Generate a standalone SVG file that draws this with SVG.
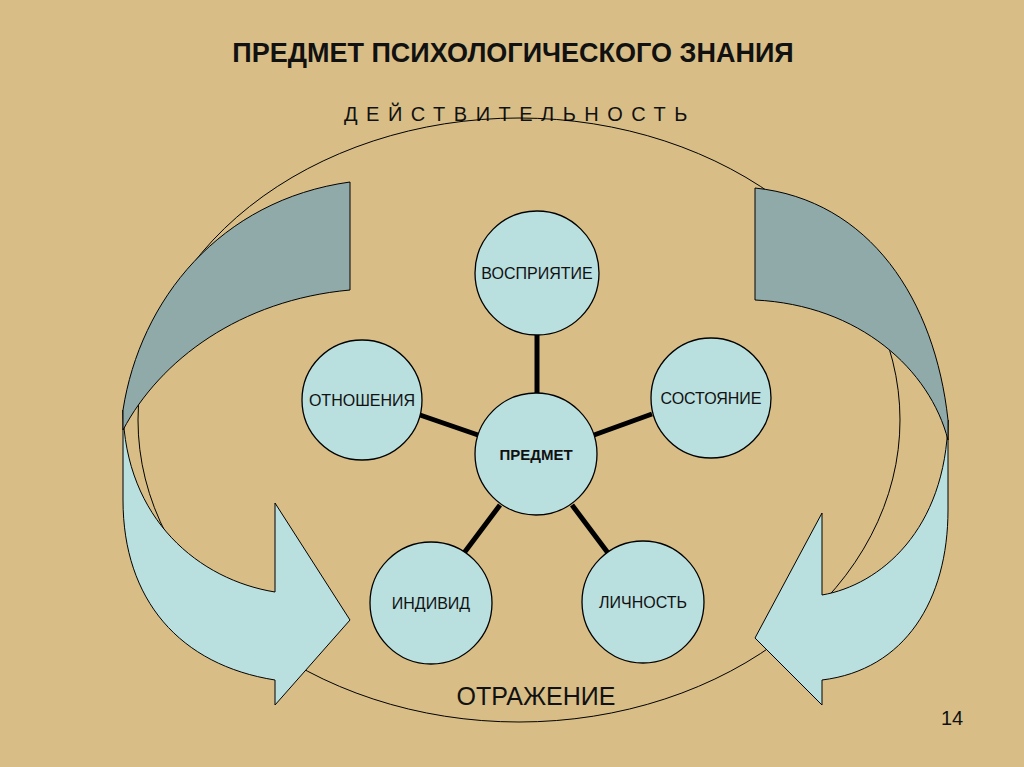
<svg xmlns="http://www.w3.org/2000/svg" width="1024" height="767" viewBox="0 0 1024 767">
<style>
.n{fill:#b9dfdf;stroke:#000;stroke-width:1.3}
.t{font-family:"Liberation Sans",Arial,sans-serif;font-size:16px;text-anchor:middle;fill:#111}
.c{stroke:#000;stroke-width:5}
.dk{fill:#8faaa8;stroke:#000;stroke-width:1}
.lt{fill:#b9dfdf;stroke:#000;stroke-width:1}
</style>
<rect width="1024" height="767" fill="#d8be86"/>
<text x="513" y="62" class="t" style="font-size:27px;font-weight:bold">ПРЕДМЕТ ПСИХОЛОГИЧЕСКОГО ЗНАНИЯ</text>
<text x="520" y="121" class="t" style="font-size:20px;letter-spacing:8.5px">ДЕЙСТВИТЕЛЬНОСТЬ</text>
<ellipse cx="519" cy="420" rx="381" ry="302" fill="none" stroke="#000" stroke-width="1"/>
<g id="arrow-left">
<path class="lt" d="M123,410 C125,520 200,580 275,592 L275,503 L350,620 L275,705 L275,680 C180,665 123,600 123,500 Z"/>
<path class="dk" d="M350,182 L350,290 C240,300 160,360 123,430 L123,410 C140,300 220,200 350,182 Z"/>
</g>
<g id="arrow-right">
<path class="lt" d="M948,420 C946,530 880,585 822,595 L822,513 L755,638 L822,705 L822,680 C905,670 948,600 948,510 Z"/>
<path class="dk" d="M755,188 L755,300 C860,305 930,370 948,440 L948,420 C935,300 870,200 755,188 Z"/>
</g>
<g id="connectors">
<line class="c" x1="537" y1="335" x2="537" y2="393"/>
<line class="c" x1="420" y1="415" x2="478" y2="435"/>
<line class="c" x1="652" y1="414" x2="594" y2="435"/>
<line class="c" x1="500" y1="505" x2="464" y2="553"/>
<line class="c" x1="572" y1="505" x2="608" y2="553"/>
</g>
<g id="n-vospr"><circle class="n" cx="537" cy="273" r="62"/><text class="t" x="537" y="279">ВОСПРИЯТИЕ</text></g>
<g id="n-otn"><circle class="n" cx="362" cy="400" r="60"/><text class="t" x="362" y="406">ОТНОШЕНИЯ</text></g>
<g id="n-sost"><circle class="n" cx="711" cy="398" r="60"/><text class="t" x="711" y="404">СОСТОЯНИЕ</text></g>
<g id="n-predmet"><circle class="n" cx="536" cy="454" r="61"/><text class="t" x="536" y="460" style="font-weight:bold;font-size:15px">ПРЕДМЕТ</text></g>
<g id="n-indiv"><circle class="n" cx="431" cy="603" r="61"/><text class="t" x="431" y="609">ИНДИВИД</text></g>
<g id="n-lich"><circle class="n" cx="643" cy="602" r="61"/><text class="t" x="643" y="608">ЛИЧНОСТЬ</text></g>
<text x="536" y="705" class="t" style="font-size:25px">ОТРАЖЕНИЕ</text>
<text x="952" y="725" class="t" style="font-size:20px">14</text>
</svg>
